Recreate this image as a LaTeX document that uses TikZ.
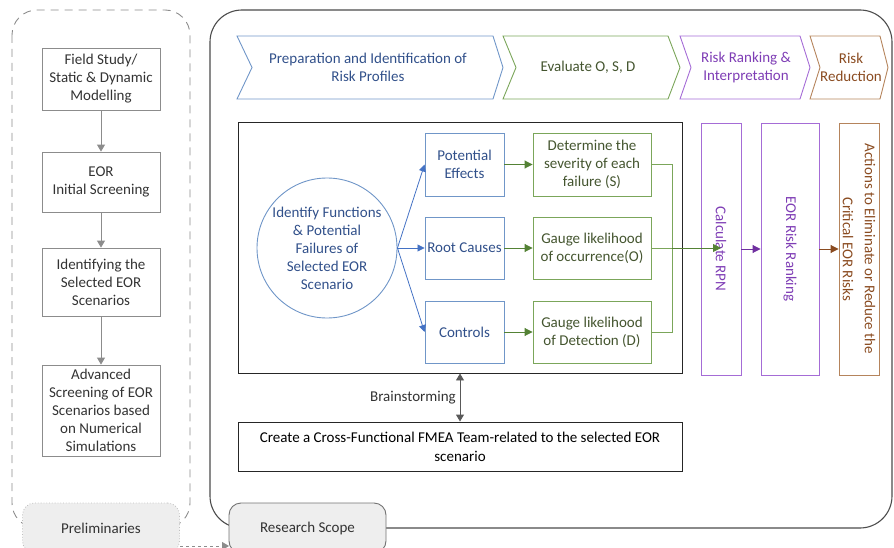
\documentclass[tikz,border=0pt]{standalone}
\usepackage{fontspec}
\setmainfont{Carlito}
\usetikzlibrary{arrows.meta}
\definecolor{gline}{HTML}{8C8C8C}
\definecolor{gtxt}{HTML}{333333}
\definecolor{bline}{HTML}{7096C8}
\definecolor{barrow}{HTML}{4472C4}
\definecolor{btxt}{HTML}{31508A}
\definecolor{grline}{HTML}{7BA65A}
\definecolor{grarrow}{HTML}{548235}
\definecolor{grtxt}{HTML}{44552F}
\definecolor{pline}{HTML}{A56CD6}
\definecolor{parrow}{HTML}{7030A0}
\definecolor{ptxt}{HTML}{7E3DB5}
\definecolor{rline}{HTML}{B5845C}
\definecolor{rarrow}{HTML}{8A4B20}
\definecolor{rtxt}{HTML}{8A4B20}
\definecolor{tabfill}{HTML}{EEEEEE}
\begin{document}
\begin{tikzpicture}[x=1pt,y=-1pt,
  txt/.style={font=\fontsize{15}{18}\selectfont, align=center, inner sep=0pt},
  prebox/.style={txt, draw=gline, line width=0.8pt, text=gtxt, minimum width=118pt},
  bluebox/.style={txt, draw=bline, line width=0.9pt, text=btxt, minimum width=79pt, minimum height=62pt},
  greenbox/.style={txt, draw=grline, line width=0.9pt, text=grtxt, minimum width=118pt, minimum height=62pt},
  vbox/.style={txt, rotate=-90, line width=0.9pt, minimum width=252pt},
  garr/.style={draw=gline, line width=0.9pt, -{Triangle[width=8pt,length=7pt]}},
  barr/.style={draw=barrow, line width=0.8pt, -{Triangle[width=7pt,length=7pt]}},
  grarr/.style={draw=grarrow, line width=0.9pt, -{Triangle[width=8pt,length=8pt]}},
  tab/.style={txt, fill=tabfill, rounded corners=12pt, minimum width=157pt, minimum height=50pt, text=gtxt}
]
\useasboundingbox (0,0) rectangle (894,548);

% ---------- Preliminaries frame ----------
\draw[gline, line width=0.9pt, dash pattern=on 8pt off 6pt, rounded corners=25pt] (12,10) rectangle (190,528);

\node[prebox, minimum height=62pt] (f1) at (101,79) {Field Study/\\Static \& Dynamic\\Modelling};
\node[prebox, minimum height=60pt] (f2) at (101,182) {EOR\\Initial Screening};
\node[prebox, minimum height=68pt] (f3) at (101,282) {Identifying the\\Selected EOR\\Scenarios};
\node[prebox, minimum height=91pt] (f4) at (101,410.5) {Advanced\\Screening of EOR\\Scenarios based\\on Numerical\\Simulations};
\draw[garr] (f1) -- (f2);
\draw[garr] (f2) -- (f3);
\draw[garr] (f3) -- (f4);

% ---------- Research scope frame ----------
\draw[black!70, line width=1.1pt, rounded corners=32pt] (210,10) rectangle (892,528);

% chevrons
\draw[bline, line width=0.9pt] (237,36) -- (493,36) -- (503,67.5) -- (493,99) -- (237,99) -- (252,67.5) -- cycle;
\node[txt, text=btxt] (c1) at (368,67.5) {Preparation and Identification of\\Risk Profiles};
\draw[grline, line width=0.9pt] (503,36) -- (668,36) -- (680,67.5) -- (668,99) -- (503,99) -- (516,67.5) -- cycle;
\node[txt, text=grtxt] (c2) at (588,67.5) {Evaluate O, S, D};
\draw[pline, line width=0.9pt] (680,36) -- (800,36) -- (810,67.5) -- (800,99) -- (680,99) -- (691,67.5) -- cycle;
\node[txt, text=ptxt] (c3) at (746,67.5) {Risk Ranking \&\\Interpretation};
\draw[rline, line width=0.9pt] (810,36) -- (880,36) -- (888,67.5) -- (880,99) -- (810,99) -- (820,67.5) -- cycle;
\node[txt, text=rtxt] (c4) at (851,67.5) {Risk\\Reduction};

% inner box
\node[draw=black!85, line width=0.9pt, minimum width=444pt, minimum height=251pt, inner sep=0pt] (ibox) at (460,247.5) {};

\node[txt, draw=bline, line width=0.9pt, text=btxt, circle, minimum size=140pt] (c) at (327,248) {Identify Functions\\\& Potential\\Failures of\\Selected EOR\\Scenario};

\node[bluebox, minimum height=63pt] (b1) at (464.5,164.5) {Potential\\Effects};
\node[bluebox] (b2) at (464.5,248) {Root Causes};
\node[bluebox] (b3) at (464.5,332) {Controls};

\node[greenbox, minimum height=63pt] (g1) at (592,164.5) {Determine the\\severity of each\\failure (S)};
\node[greenbox] (g2) at (592,248) {Gauge likelihood\\of occurrence(O)};
\node[greenbox] (g3) at (592,332) {Gauge likelihood\\of Detection (D)};

\draw[barr] (c.east) -- (b1.west);
\draw[barr] (c.east) -- (b2.west);
\draw[barr] (c.east) -- (b3.west);

\draw[grarr] (b1) -- (g1);
\draw[grarr] (b2) -- (g2);
\draw[grarr] (b3) -- (g3);

% right-side boxes
\node[vbox, draw=pline, text=ptxt, minimum height=40pt] (p1) at (721,249) {Calculate RPN};
\node[vbox, draw=pline, text=ptxt, minimum height=58pt] (p2) at (790,249) {EOR Risk Ranking};
\node[vbox, draw=rline, text=rtxt, minimum height=40pt, font=\fontsize{15}{22}\selectfont] (r1) at (859,249) {Actions to Eliminate or Reduce the\\Critical EOR Risks};

\coordinate (jt) at (672,164.5);
\coordinate (jm) at (672,248);
\coordinate (jb) at (672,332);
\draw[grline, line width=0.9pt] (g1.east) -- (jt) -- (jb) -- (g3.east);
\draw[grline, line width=0.9pt] (g2.east) -- (jm);
\draw[grarr] (jm) -- (p1.west |- jm);
\draw[draw=parrow, line width=0.9pt, -{Triangle[width=8pt,length=8pt]}] (p1) -- (p2);
\draw[draw=rarrow, line width=0.9pt, -{Triangle[width=8pt,length=8pt]}] (p2) -- (r1);

% FMEA team
\node[txt, draw=black!85, line width=0.9pt, minimum width=444pt, minimum height=49pt, font=\fontsize{15}{19}\selectfont] (fm) at (460,446.5) {Create a Cross-Functional FMEA Team-related to the selected EOR\\scenario};
\draw[draw=black!65, line width=0.9pt, {Triangle[width=8pt,length=7pt]}-{Triangle[width=8pt,length=7pt]}] (ibox.south) -- (fm.north);
\node[txt, text=gtxt, anchor=east] (bs) at (456,398) {Brainstorming};

% tabs
\node[tab, draw=black!25, dotted, line width=0.8pt] (pt) at (101,528) {Preliminaries};
\node[tab, draw=black!55, line width=0.9pt] (rt) at (307.5,528) {Research Scope};
\coordinate (da) at (180,546);
\coordinate (db) at (229,546);
\draw[draw=gline, line width=0.9pt, dashed, -{Triangle[width=8pt,length=7pt]}] (da) -- (db);
\end{tikzpicture}
\end{document}
